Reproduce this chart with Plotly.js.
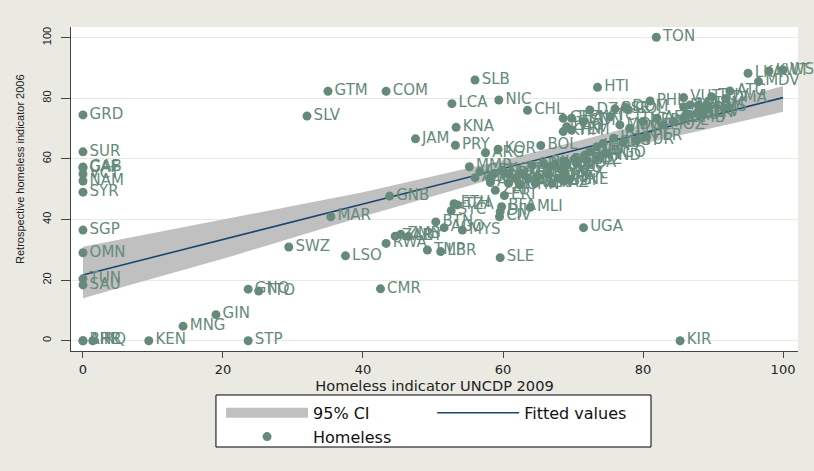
<!DOCTYPE html>
<html><head><meta charset="utf-8">
<script src="https://cdn.plot.ly/plotly-3.0.1.min.js"></script>
<style>html,body{margin:0;padding:0;background:#EAEAE2;} #chart{width:814px;height:471px;}</style>
</head><body><div id="chart"></div>
<script>
// Country codes, x = Homeless indicator UNCDP 2009, y = Retrospective homeless indicator 2006
const countries = [
 "GRD","SUR","GAB","CAF","VCT","NAM","SYR","SGP","OMN","TUN","SAU","ARE","BHR","IRQ",
 "KEN","MNG","GIN","STP","GNQ","TTO","SWZ","SLV","GTM","COM","CMR","LSO","MAR","GNB","RWA",
 "ZAR","ZMB","LBY","TMP","LBR","BTN","AGO","MYS","SLE","TZA","ETH","SYC","BFA","DJI","MLI","CIV",
 "ERI","ZAF","ARM","UGA","KIR","BDI","MMR","PRY","KNA","JAM","ARG","KOR","BOL","LCA","NIC","SLB",
 "CHL","HTI","TON","PHL","VUT","TUV","DMA","ATG","LKA","MDV","KWT","WSM",
 "FJI","MHL","PLW","FSM","NRU","SEN","PRK","MUS",
 "DZA","PSE","DOM","COL","BEN","SDN","GHA","LAO","YEM","KHM","TCD","MDG","MWI","NER","AFG","MOZ",
 "NPL","GMB","GUY","CPV","IRN","EGY","TUR","PER","ECU","IDN","IND","TGO","HND","BLZ","NGA","PAK","COG","COD",
 "GEO","ALB","KGZ","UZB","AZE","MDA","TKM","MKD","SRB","BIH","UKR","BWA","CUB","PAN","BLR","MRT","SOM","BRA","MEX",
 "THA","CHN","VEN","KAZ","MNE"
];
const homeless2009 = [
 0,0,0,0,0,0,0,0,0,0,0,0,0,1.4,
 9.4,14.3,19,23.6,23.6,25.1,29.4,32,35,43.3,42.5,37.5,35.4,43.8,43.3,
 44.6,45.4,46.5,49.2,51.1,50.4,51.6,54.2,59.6,53.5,53.0,52.6,59.8,59.6,63.9,59.5,
 60.2,58.9,58.2,71.5,85.3,68.6,55.2,53.2,53.3,47.5,57.5,59.3,65.4,52.7,59.4,56,
 63.5,73.5,81.9,81,85.8,89.8,91.8,92.4,95,96.5,98,100,
 85.8,86.7,87.9,89.1,86.2,87.7,88.1,89.1,
 72.4,76,77.5,77.9,69.8,71.5,68.6,69.1,69.8,68.6,75.3,76.7,78.1,80,82,82.9,
 84.3,85.8,86.7,88.6,75.8,77.2,79.1,80.5,74.3,73.4,72.4,74.8,73.9,71.9,70.5,69.1,68.4,66.7,
 56.7,58.6,59.8,60.8,56,58.1,61.7,62.7,64.1,65.8,67.4,68.9,70.3,71.7,63.6,65,66.5,67.9,68.9,
 60.8,62.4,64.6,67,69.3
];
const retro2006 = [
 74.5,62.3,57.3,57.0,55,52.7,49,36.5,29,20.4,18.4,0,0,0,
 0,4.8,8.6,0,17,16.4,30.9,74.1,82.3,82.3,17.1,28,40.9,47.7,32.1,
 34.5,35.1,34.4,29.9,29.4,39.2,37.3,36.5,27.4,44.8,45.2,42.9,44.2,42.6,44,40.9,
 47.9,49.6,52.2,37.3,0,52.7,57.4,64.5,70.4,66.6,62.0,63.2,64.4,78.2,79.4,86,
 76,83.6,100.1,79.1,80.2,80.5,79.9,82.4,88.2,85.5,89,89.3,
 77.2,77.8,77.8,78,75,75,76.1,76.9,
 76.1,76.5,77.0,76.2,73.4,72.3,73.4,70.6,69.5,69,73.9,71.2,70.1,72.3,73.4,71.2,
 72.3,73.4,74.5,75.3,66.8,65.7,66.2,67.3,65.1,64,62.4,61.8,60.7,59.6,58.5,58,56.9,57.4,
 55.8,54.9,56.3,54.9,53.8,53.6,53.6,55.2,58,58.5,58,59.1,60.2,61.3,53.6,54.1,54.7,53.6,55.2,
 51.9,51.4,51.9,51.9,53
];
// 95% CI band and fitted line
const ciX = [0,20,40,60,80,100];
const ciUpper = [31,40,49,59.5,71.5,84];
const ciLower = [14,27,41,54.3,65,75.5];
const fitX = [0,100];
const fitY = [21.7,80.2];

const markerColor = '#658A7B';
const ciColor = '#C0C0C0';
const traces = [
 {x: ciX, y: ciLower, type:'scatter', mode:'lines', line:{width:0, color:ciColor}, showlegend:false, hoverinfo:'skip'},
 {x: ciX, y: ciUpper, type:'scatter', mode:'lines', line:{width:0, color:ciColor}, fill:'tonexty', fillcolor:ciColor, showlegend:false, hoverinfo:'skip'},
 // legend key for the band
 {x:[null], y:[null], type:'scatter', mode:'lines', line:{width:10, color:ciColor}, name:'95% CI', legend:'legend', legendrank:1},
 {x: fitX, y: fitY, type:'scatter', mode:'lines', line:{width:1.6, color:'#1A476F'}, name:'Fitted values', legend:'legend2', legendrank:2},
 {x: homeless2009, y: retro2006, text: countries, type:'scatter', mode:'markers+text', textposition:'middle right',
  textfont:{family:'DejaVu Sans, sans-serif', size:15, color:markerColor},
  marker:{size:9, color:markerColor}, cliponaxis:false, name:'Homeless', legend:'legend', legendrank:3}
];
const layout = {
 width:814, height:471,
 paper_bgcolor:'#EAEAE2', plot_bgcolor:'#FFFFFF',
 margin:{l:71, r:16, t:27, b:120},
 font:{family:'DejaVu Sans, sans-serif', color:'#222'},
 xaxis:{range:[-1.71,102.14], tickvals:[0,20,40,60,80,100], ticks:'outside', ticklen:6, tickcolor:'#444',
   showline:true, linecolor:'#444', linewidth:1, showgrid:false, zeroline:false,
   tickfont:{family:'DejaVu Sans, sans-serif', size:13, color:'#222'},
   title:{text:'Homeless indicator UNCDP 2009', font:{family:'DejaVu Sans, sans-serif', size:14.6, color:'#222'}, standoff:2}},
 yaxis:{range:[-3.4,103.5], tickvals:[0,20,40,60,80,100], ticks:'outside', ticklen:9, tickcolor:'#444',
   showline:true, linecolor:'#444', linewidth:1, showgrid:true, gridcolor:'#EAEAE2', gridwidth:1, zeroline:false,
   tickangle:-90, ticklabelstandoff:6, tickfont:{family:'Liberation Sans, Arial, sans-serif', size:11, color:'#222'}},
 annotations:[{text:'Retrospective homeless indicator 2006', xref:'paper', yref:'paper', x:-0.0702, y:0.5617,
   xanchor:'center', yanchor:'middle', textangle:-90, showarrow:false,
   font:{family:'Liberation Sans, Arial, sans-serif', size:11, color:'#222'}}],
 showlegend:true,
 legend:{x:0.2064, y:-0.1385, xanchor:'left', yanchor:'top', orientation:'v', traceorder:'normal',
   bgcolor:'rgba(0,0,0,0)', borderwidth:0, font:{family:'DejaVu Sans, sans-serif', size:16, color:'#111'}, itemwidth:82, tracegroupgap:0},
 legend2:{x:0.4968, y:-0.1385, xanchor:'left', yanchor:'top', orientation:'v', traceorder:'normal',
   bgcolor:'rgba(0,0,0,0)', borderwidth:0, font:{family:'DejaVu Sans, sans-serif', size:16, color:'#111'}, itemwidth:82},
 shapes:[{type:'rect', xref:'paper', yref:'paper', x0:0.1994, x1:0.7978, y0:-0.1358, y1:-0.2963,
   line:{color:'#000', width:1}, fillcolor:'#FFFFFF', layer:'below'}]
};
Plotly.newPlot('chart', traces, layout, {displayModeBar:false, staticPlot:true});
</script></body></html>
